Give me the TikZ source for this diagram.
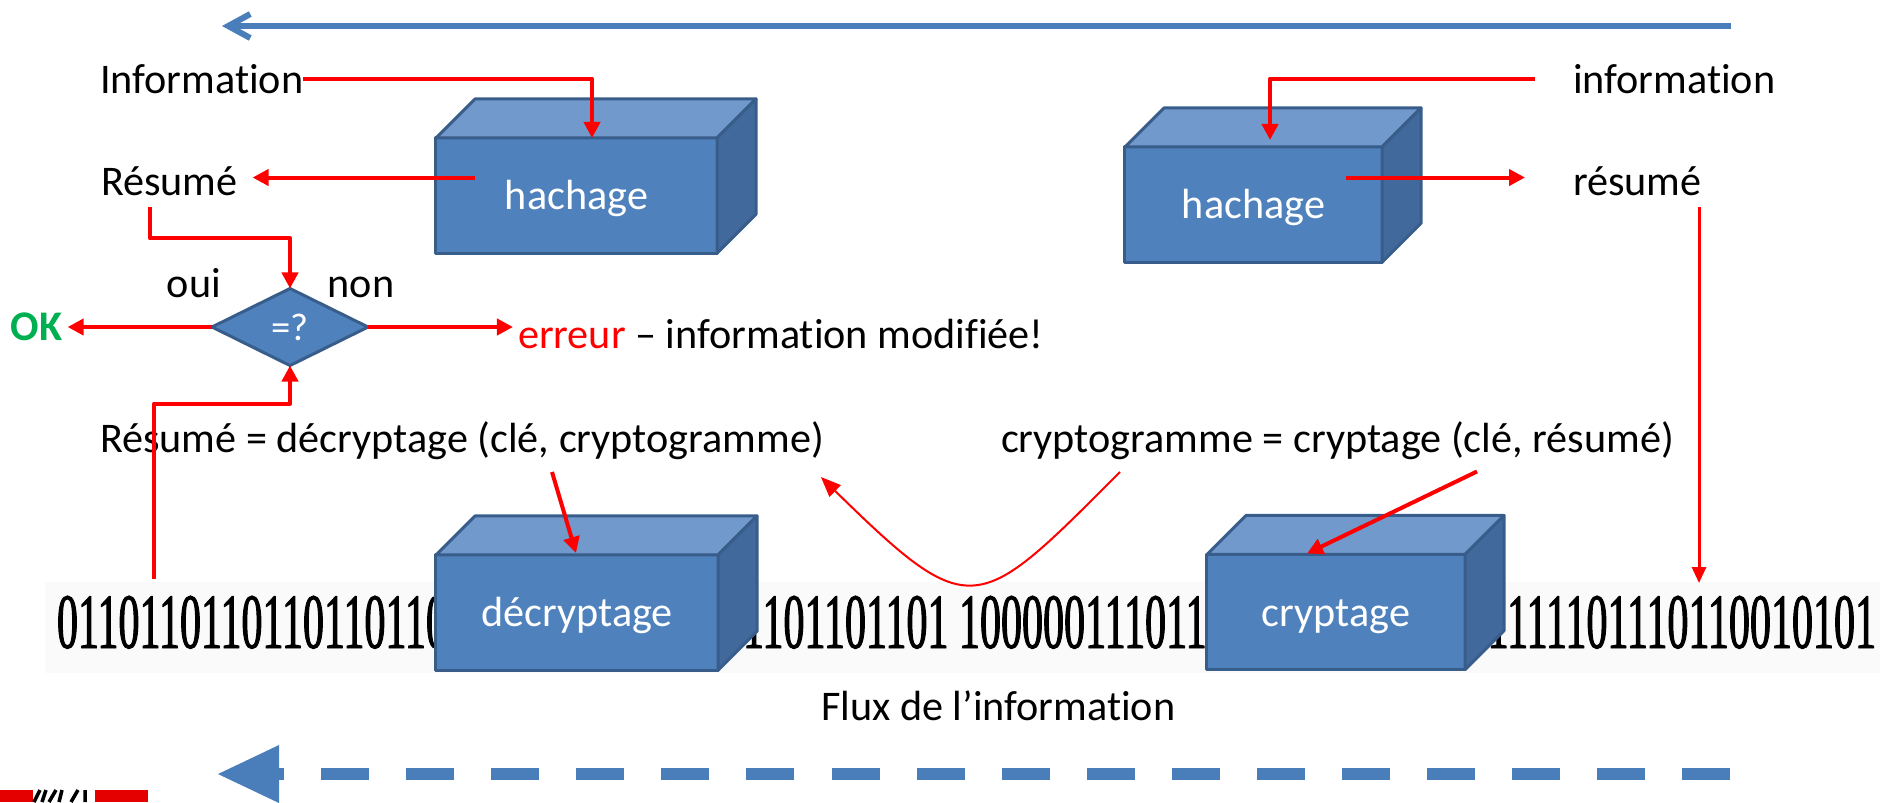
\documentclass[tikz,border=0pt]{standalone}
\usepackage{fontspec}
\setmainfont{Carlito}[Ligatures=NoCommon, Contextuals=NoAlternate]
\newfontfamily\binfont[FakeStretch=0.536,FakeBold=1.2]{Liberation Serif}
\usetikzlibrary{arrows.meta,shapes.geometric,calc}
\definecolor{face}{HTML}{4F81BD}
\definecolor{dessus}{HTML}{7299CB}
\definecolor{cote}{HTML}{41699C}
\definecolor{bord}{HTML}{385D8A}
\definecolor{rouge}{HTML}{FF0000}
\definecolor{vert}{HTML}{00B050}
\definecolor{bleu}{HTML}{4A7EBB}
\begin{document}
\begin{tikzpicture}[x=0.01cm, y=-0.01cm, line join=round,
	every node/.style={inner sep=0, outer sep=0, font=\fontsize{12}{14}\selectfont},
	boite/.style={draw=bord, fill=face, line width=0.03cm, text=white, text height=0.28cm, text depth=0pt, minimum height=1.15cm},
	losange/.style={diamond, draw=bord, fill=face, line width=0.03cm, text=white, minimum width=1.56cm, minimum height=0.77cm, font=\fontsize{11}{13}\selectfont},
	fleche/.style={draw=rouge, line width=0.04cm, -{Triangle[length=0.16cm,width=0.16cm]}}]
	\def\prof{39} % profondeur des boites
	\useasboundingbox (0,0) rectangle (1883,802);
	% flux binaire
	\fill[black!2] (45,582) rectangle (1880,673);
	\node[anchor=base west, font=\binfont\fontsize{22.3}{24}\selectfont] (bin1) at (57,648) {0110110110110110110};
	\node[anchor=base west, font=\binfont\fontsize{22.3}{24}\selectfont] (bin2) at (722,648) {01101101101 100000111011};
	\node[anchor=base east, font=\binfont\fontsize{22.3}{24}\selectfont] (bin3) at (1876,648) {1111101110110010101};
	% boites
	\node[boite, minimum width=2.81cm] (h1) at (576.5,195.5) {hachage};
	\node[boite, minimum width=2.57cm] (h2) at (1253.5,204.5) {hachage};
	\node[boite, minimum width=2.82cm] (dec) at (577,612.5) {décryptage};
	\node[boite, minimum width=2.58cm] (cry) at (1336,612) {cryptage};
	\foreach \b in {h1,h2,dec,cry}{
		\filldraw[fill=dessus, draw=bord, line width=0.03cm] (\b.north west) -- ++(\prof,-\prof) -- ($(\b.north east)+(\prof,-\prof)$) -- (\b.north east) -- cycle;
		\filldraw[fill=cote, draw=bord, line width=0.03cm] (\b.north east) -- ++(\prof,-\prof) -- ($(\b.south east)+(\prof,-\prof)$) -- (\b.south east) -- cycle;
	}
	\node[losange] (eg) at (290,327) {=?};
	% textes
	\node[anchor=base west] (info1) at (100,93) {Information};
	\node[anchor=base west] (res1) at (101,195) {Résumé};
	\node[anchor=base west] (info2) at (1573,93) {information};
	\node[anchor=base west] (res2) at (1573,195) {résumé};
	\node[anchor=base] (oui) at (194,297) {oui};
	\node[anchor=base] (non) at (361,297) {non};
	\node[anchor=base west, text=vert, font=\bfseries\fontsize{12}{14}\selectfont] (ok) at (11,340) {OK};
	\node[anchor=base west] (err) at (518,348) {\textcolor{rouge}{erreur} – information modifiée!};
	\node[anchor=base west] (dtext) at (100,452) {Résumé = décryptage (clé, cryptogramme)};
	\node[anchor=base west] (ctext) at (1001,452) {cryptogramme = cryptage (clé, résumé)};
	\node[anchor=base west] (flux) at (821,720) {Flux de l’information};
	% fleches rouges
	\draw[fleche] (info1.east) -| ([xshift=0.155cm]h1.north);
	\draw[fleche] ([xshift=-0.38cm]info2.west) -| ([xshift=0.165cm,yshift=0.07cm]h2.north);
	\draw[fleche] ($(h1.west)+(39,-18)$) -- ($(h1.west -| res1.east)+(15,-18)$);
	\draw[fleche] ($(h2.east)+(-36,-27)$) -- ($(h2.east -| res2.west)+(-48,-27)$);
	\draw[fleche] ($(res1.base west)+(49,12)$) |- ($(eg.north)+(0,-50)$) -- (eg.north);
	\draw[fleche, shorten >=0.05cm] (eg.west) -- (eg.west -| ok.east);
	\draw[fleche, shorten >=0.05cm] (eg.east) -- (eg.east -| err.west);
	\draw[fleche] ($(eg.south)+(-136,213)$) |- ($(eg.south)+(0,38)$) -- (eg.south);
	\draw[fleche] ($(dec.north)+(-25,-83)$) -- ($(dec.north)+(-1,-2)$);
	\draw[fleche] ($(cry.north)+(141,-83)$) -- ($(cry.north)+(-29,-1)$);
	\draw[rouge, line width=0.03cm, -{Triangle[length=0.16cm,width=0.14cm]}] ($(res2.base west)+(126,12)$) -- ++(0,376);
	\draw[rouge, line width=0.02cm, -{Triangle[length=0.2cm,width=0.16cm]}] ($(ctext.base west)+(119,20)$) .. controls (977,615) and (972,625) .. ($(dtext.base east)+(-3,25)$);
	% fleches bleues
	\coordinate (hautD) at (1731,26);
	\coordinate (hautG) at (222,26);
	\draw[bleu, line width=0.06cm, -{Straight Barb[length=0.22cm,width=0.24cm]}] (hautD) -- (hautG);
	\coordinate (fluxD) at (1730,774);
	\coordinate (fluxG) at (218,774);
	\draw[bleu, line width=0.12cm, dash pattern=on 0.48cm off 0.37cm] (fluxD) -- ($(fluxG)+(61,0)$);
	\fill[bleu] (fluxG) -- ++(61,-29) -- ++(0,58) -- cycle;
	% logo
	\fill[rouge!90!black] (0,790) rectangle (33,802);
	\fill[rouge!90!black] (95,790) rectangle (148,802);
	\draw[line width=0.035cm] (34,802) -- (40,790) (46,790) -- (42,802) (49,802) -- (56,790) (62,790) -- (59,802) (71,802) -- (78,790) (85,790) -- (85,802);
\end{tikzpicture}
\end{document}
